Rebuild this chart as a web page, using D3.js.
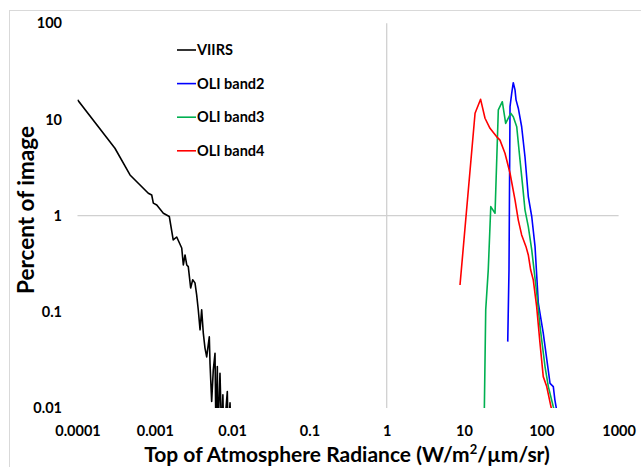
<!DOCTYPE html>
<html>
<head>
<meta charset="utf-8">
<script src="https://d3js.org/d3.v7.min.js"></script>
<style>
  body { margin: 0; background: #fff; }
  #chart { width: 641px; height: 467px; }
  text { font-family: Lato, "Liberation Sans", sans-serif; font-weight: bold; fill: #000; }
</style>
</head>
<body>
<div id="chart"></div>
<script>
// tick values + labels (log axes)
const xTicks = [0.0001, 0.001, 0.01, 0.1, 1, 10, 100, 1000];
const xTickLabels = ["0.0001", "0.001", "0.01", "0.1", "1", "10", "100", "1000"];
const yTicks = [0.01, 0.1, 1, 10, 100];
const yTickLabels = ["0.01", "0.1", "1", "10", "100"];

const seriesNames = ["VIIRS", "OLI band2", "OLI band3", "OLI band4"];
const seriesColors = ["#000000", "#0000ff", "#00b050", "#ff0000"];

// radiance / percent pairs
const viirsX = [0.0001, 0.000305, 0.000478, 0.000824, 0.000912, 0.000957, 0.00106, 0.00129, 0.00154,
  0.00173, 0.00192, 0.00223, 0.00234, 0.00246, 0.00259, 0.00271, 0.00291, 0.00309, 0.00331, 0.00348,
  0.00365, 0.00385, 0.00404, 0.00424, 0.00446, 0.00469, 0.00507, 0.00518, 0.00544, 0.00571, 0.00601,
  0.00619, 0.00644, 0.00654, 0.00697, 0.00733, 0.0076, 0.0078, 0.00867, 0.0089, 0.0094, 0.0097];
const viirsY = [16.0, 5.02, 2.65, 1.71, 1.64, 1.35, 1.29, 1.06, 0.98,
  0.559, 0.60, 0.461, 0.307, 0.39, 0.307, 0.295, 0.177, 0.215, 0.20, 0.15,
  0.105, 0.065, 0.105, 0.060, 0.042, 0.034, 0.055, 0.029, 0.0117, 0.0249, 0.037,
  0.005, 0.027, 0.005, 0.023, 0.005, 0.0137, 0.005, 0.0148, 0.005, 0.0113, 0.005];

const band2X = [36.8, 38.2, 39.4, 41.4, 43.4, 45.7, 47.1, 50.4, 55.7, 61.5, 67.9, 75.2, 83.0, 91.5,
  106, 129.7, 143, 150, 158];
const band2Y = [0.049, 0.273, 13.6, 18.7, 24.1, 20.3, 16.0, 13.1, 8.4, 4.1, 1.58, 0.98, 0.476, 0.123,
  0.060, 0.018, 0.0167, 0.0121, 0.0095];

const band3X = [18.3, 19.1, 20.6, 22.2, 25.2, 27.8, 31.3, 34.6, 40.2, 43.4, 48.1, 53.0, 57.5, 61.5,
  67.9, 75.2, 87.3, 96.3, 111.7, 123.3, 143, 150];
const band3Y = [0.009, 0.105, 0.273, 1.24, 1.06, 12.6, 15.3, 9.1, 11.6, 10.7, 8.4, 3.8, 2.0, 1.15,
  0.77, 0.44, 0.156, 0.070, 0.027, 0.0167, 0.0103, 0.009];

const band4X = [8.88, 13.9, 16.4, 18.7, 21.7, 26.5, 29.2, 33.9, 39.4, 45.7, 50.4, 55.7, 63.4, 67.9,
  72.9, 78.8, 87.1, 96.1, 106, 117.5, 136];
const band4Y = [0.19, 11.6, 16.2, 10.3, 8.1, 6.6, 6.1, 4.45, 2.76, 1.46, 0.90, 0.63, 0.476, 0.39,
  0.272, 0.214, 0.113, 0.0475, 0.0212, 0.0167, 0.0096];

class LogChart {

    constructor(svg_id){
        this.svg = d3.select(svg_id).append("svg").attr("width", 641).attr("height", 467);
        this.left = 77.5;
        this.right = 618.6;
        this.top = 23.3;
        this.bottom = 408;
        this.series = [
            {name: seriesNames[0], color: seriesColors[0], xs: viirsX, ys: viirsY},
            {name: seriesNames[1], color: seriesColors[1], xs: band2X, ys: band2Y},
            {name: seriesNames[2], color: seriesColors[2], xs: band3X, ys: band3Y},
            {name: seriesNames[3], color: seriesColors[3], xs: band4X, ys: band4Y}
        ];
    }

    draw(){
        // excel-ish chart border
        this.svg.append("rect")
            .attr("x", 9.5).attr("y", 10.5)
            .attr("width", 700).attr("height", 500)
            .attr("fill", "none").attr("stroke", "#d9d9d9");
        this.build_axis();
        this.draw_lines();
        this.draw_legend();
    }

    build_axis(){
        this.xScale = d3.scaleLog().domain([0.0001, 1000]).range([this.left, this.right]);
        this.yScale = d3.scaleLog().domain([0.01, 100]).range([this.bottom, this.top]);

        // the axes cross at 1 / 1
        this.svg.append("line")
            .attr("x1", this.left).attr("x2", this.right)
            .attr("y1", this.yScale(1)).attr("y2", this.yScale(1))
            .attr("stroke", "#d0d0d0").attr("stroke-width", 1.3);
        this.svg.append("line")
            .attr("x1", this.xScale(1)).attr("x2", this.xScale(1))
            .attr("y1", this.top).attr("y2", this.bottom)
            .attr("stroke", "#d0d0d0").attr("stroke-width", 1.3);

        const xAxis = d3.axisBottom(this.xScale)
            .tickValues(xTicks)
            .tickFormat((d, i) => xTickLabels[i])
            .tickSize(0).tickPadding(0);
        const gx = this.svg.append("g")
            .attr("transform", `translate(0,425)`)
            .call(xAxis);
        gx.select(".domain").remove();
        gx.selectAll("text").attr("font-size", 14.5).attr("dy", "0.75em")
            .attr("font-family", "Lato, sans-serif").attr("font-weight", "bold").attr("fill", "#000");

        const yAxis = d3.axisLeft(this.yScale)
            .tickValues(yTicks)
            .tickFormat((d, i) => yTickLabels[i])
            .tickSize(0).tickPadding(0);
        const gy = this.svg.append("g")
            .attr("transform", `translate(62,0)`)
            .call(yAxis);
        gy.select(".domain").remove();
        gy.selectAll("text").attr("font-size", 14.5)
            .attr("font-family", "Lato, sans-serif").attr("font-weight", "bold").attr("fill", "#000");

        // axis titles
        const xt = this.svg.append("text")
            .attr("x", 347).attr("y", 462)
            .attr("text-anchor", "middle")
            .attr("font-size", 21);
        xt.append("tspan").text("Top of Atmosphere Radiance (W/m");
        xt.append("tspan").text("2").attr("font-size", 13).attr("dy", -8);
        xt.append("tspan").text("/\u00b5m/sr)").attr("dy", 8);

        this.svg.append("text")
            .attr("transform", "translate(34,210) rotate(-90)")
            .attr("text-anchor", "middle")
            .attr("font-size", 22.5)
            .text("Percent of image");
    }

    draw_lines(){
        this.svg.append("clipPath").attr("id", "plotclip")
            .append("rect")
            .attr("x", this.left).attr("y", this.top)
            .attr("width", this.right - this.left).attr("height", this.bottom - this.top);

        const line = d3.line()
            .x(d => this.xScale(d[0]))
            .y(d => this.yScale(d[1]));

        const g = this.svg.append("g").attr("clip-path", "url(#plotclip)");
        for (const s of this.series){
            const pts = s.xs.map((x, i) => [x, s.ys[i]]);
            g.append("path")
                .attr("d", line(pts))
                .attr("fill", "none")
                .attr("stroke", s.color)
                .attr("stroke-width", 1.6)
                .attr("stroke-linejoin", "round");
        }
    }

    draw_legend(){
        const lg = this.svg.append("g").attr("transform", "translate(177,50)");
        this.series.forEach((s, i) => {
            const y = i * 33.6;
            lg.append("line")
                .attr("x1", 0).attr("x2", 19)
                .attr("y1", y).attr("y2", y)
                .attr("stroke", s.color).attr("stroke-width", 1.6);
            lg.append("text")
                .attr("x", 20).attr("y", y)
                .attr("dy", "0.35em")
                .attr("font-size", 14.5)
                .text(s.name);
        });
    }
}

const chart = new LogChart("#chart");
chart.draw();
</script>
</body>
</html>
